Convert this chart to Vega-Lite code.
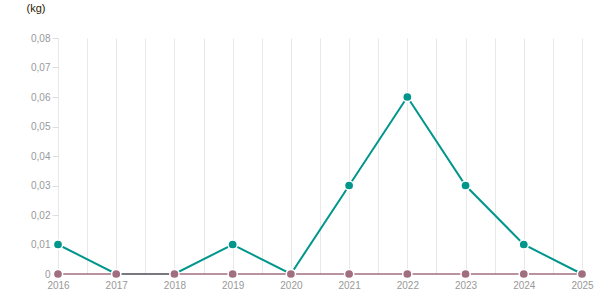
{
  "$schema": "https://vega.github.io/schema/vega-lite/v6.json",
  "width": 524,
  "height": 236,
  "autosize": "none",
  "padding": {"left": 58, "top": 38, "right": 33, "bottom": 31},
  "config": {"view": {"stroke": null}, "font": "Liberation Sans"},
  "data": {"values": [
    {"year": 2016, "value": 0.01, "series": "A"},
    {"year": 2017, "value": 0, "series": "A"},
    {"year": 2018, "value": 0, "series": "A"},
    {"year": 2019, "value": 0.01, "series": "A"},
    {"year": 2020, "value": 0, "series": "A"},
    {"year": 2021, "value": 0.03, "series": "A"},
    {"year": 2022, "value": 0.06, "series": "A"},
    {"year": 2023, "value": 0.03, "series": "A"},
    {"year": 2024, "value": 0.01, "series": "A"},
    {"year": 2025, "value": 0, "series": "A"},
    {"year": 2016, "value": 0, "series": "B"},
    {"year": 2017, "value": 0, "series": "B"},
    {"year": 2018, "value": 0, "series": "B"},
    {"year": 2019, "value": 0, "series": "B"},
    {"year": 2020, "value": 0, "series": "B"},
    {"year": 2021, "value": 0, "series": "B"},
    {"year": 2022, "value": 0, "series": "B"},
    {"year": 2023, "value": 0, "series": "B"},
    {"year": 2024, "value": 0, "series": "B"},
    {"year": 2025, "value": 0, "series": "B"}
  ]},
  "encoding": {
    "x": {"field": "year", "type": "quantitative",
      "scale": {"domain": [2016, 2025], "nice": false, "zero": false},
      "axis": {"values": [2016, 2016.5, 2017, 2017.5, 2018, 2018.5, 2019, 2019.5, 2020, 2020.5, 2021, 2021.5, 2022, 2022.5, 2023, 2023.5, 2024, 2024.5, 2025],
        "labelExpr": "datum.value % 1 == 0 ? format(datum.value, 'd') : ''",
        "title": null, "domain": false, "ticks": false, "grid": true, "gridColor": "#e8e8e8", "gridWidth": 1,
        "labelColor": "#999999", "labelFontSize": 10, "labelPadding": 6, "labelFlush": false}},
    "y": {"field": "value", "type": "quantitative",
      "scale": {"domain": [0, 0.08], "nice": false},
      "axis": {"values": [0, 0.01, 0.02, 0.03, 0.04, 0.05, 0.06, 0.07, 0.08],
        "labelExpr": "datum.value == 0 ? '0' : replace(format(datum.value, '.2f'), '.', ',')",
        "grid": false, "domain": false, "ticks": true, "tickSize": 6, "tickColor": "#dddddd",
        "labelColor": "#999999", "labelFontSize": 10, "labelPadding": 2,
        "title": "(kg)", "titleAngle": 0, "titleAlign": "left", "titleBaseline": "middle",
        "titleX": -32, "titleY": -30, "titleFontWeight": "normal", "titleFontSize": 11, "titleColor": "#2a1a05"}},
    "color": {"field": "series", "type": "nominal",
      "scale": {"domain": ["A", "B"], "range": ["#00968c", "#a06e7e"]}, "legend": null}
  },
  "layer": [
    {"transform": [{"filter": "datum.series == 'A'"}], "mark": {"type": "line", "strokeWidth": 2}},
    {"transform": [{"filter": "datum.series == 'A'"}], "mark": {"type": "point", "filled": true, "size": 85, "opacity": 1, "stroke": "white", "strokeWidth": 1.5}},
    {"transform": [{"filter": "datum.series == 'B'"}], "mark": {"type": "line", "strokeWidth": 1.5}},
    {"transform": [{"filter": "datum.series == 'B'"}], "mark": {"type": "point", "filled": true, "size": 85, "opacity": 1, "stroke": "white", "strokeWidth": 1.5}}
  ]
}
